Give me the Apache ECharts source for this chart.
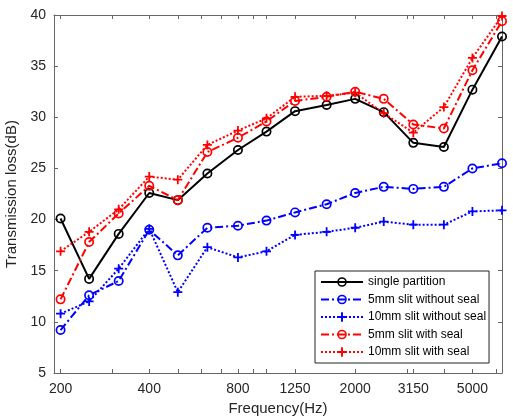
<!DOCTYPE html>
<html>
<head>
<meta charset="utf-8">
<script src="https://cdn.jsdelivr.net/npm/echarts@6/dist/echarts.min.js"></script>
<style>
  html, body { margin: 0; padding: 0; background: #fff; }
  #chart { width: 513px; height: 418px; }
</style>
</head>
<body>
<div id="chart"></div>
<script>
// 1/3 octave band centre frequencies (Hz)
var freqs = [200, 250, 315, 400, 500, 630, 800, 1000, 1250, 1600, 2000, 2500, 3150, 4000, 5000, 6300];
var freqLabels = [200, 400, 800, 1250, 2000, 3150, 5000];
var freqTicks = [200, 300, 400, 500, 600, 700, 800, 900, 1000, 1250, 2000, 3000, 3150, 4000, 5000, 6000];

// transmission loss (dB)
var singlePartition = [20.1, 14.2, 18.6, 22.6, 21.9, 24.5, 26.8, 28.6, 30.6, 31.2, 31.8, 30.5, 27.5, 27.1, 32.7, 37.9];
var slit5NoSeal = [9.2, 12.6, 14.0, 19.0, 16.5, 19.2, 19.4, 19.9, 20.7, 21.5, 22.6, 23.2, 23.0, 23.2, 25.0, 25.5];
var slit10NoSeal = [10.8, 12.0, 15.2, 19.1, 12.9, 17.3, 16.3, 16.9, 18.5, 18.8, 19.2, 19.8, 19.5, 19.5, 20.8, 20.9];
var slit5Seal = [12.2, 17.8, 20.6, 23.3, 21.9, 26.6, 28.0, 29.6, 31.6, 32.0, 32.5, 31.8, 29.3, 28.9, 34.6, 39.4];
var slit10Seal = [16.9, 18.8, 21.0, 24.2, 23.9, 27.3, 28.7, 29.9, 32.0, 32.1, 32.4, 30.4, 28.5, 31.0, 35.8, 39.9];

var seriesNames = [
  "single partition",
  "5mm slit without seal",
  "10mm slit without seal",
  "5mm slit with seal",
  "10mm slit with seal",
];

var FONT = "'Liberation Sans', Arial, sans-serif";
var RING = "path://M5,0A5,5,0,1,1,5,10A5,5,0,1,1,5,0ZM5,1.7A3.3,3.3,0,1,0,5,8.3A3.3,3.3,0,1,0,5,1.7Z";
var PLUS = "path://M4,0H6V4H10V6H6V10H4V6H0V4H4Z";

function pairs(values) {
  return freqs.map(function (f, i) {
    return [f, values[i]];
  });
}

function makeSeries(name, values, color, symbol, size, dash) {
  return {
    name: name,
    type: "line",
    data: pairs(values),
    xAxisIndex: 0,
    yAxisIndex: 0,
    symbol: symbol,
    symbolSize: size,
    showAllSymbol: true,
    lineStyle: { color: color, width: 2, type: dash },
    itemStyle: { color: color, borderWidth: 0 },
    emphasis: { disabled: true },
    animation: false,
  };
}

var axisColor = "#666";
var textColor = "#262626";

var chart = echarts.init(document.getElementById("chart"));
var option = {
  backgroundColor: "#fff",
  grid: {
    left: 54,
    right: 11,
    top: 15,
    bottom: 45,
    outerBoundsMode: "none",
  },
  legend: {
    orient: "vertical",
    left: 315,
    top: 271,
    padding: [5, 3, 5, 5],
    itemWidth: 42,
    itemHeight: 12,
    itemGap: 5.5,
    backgroundColor: "#fff",
    borderColor: "#222",
    borderWidth: 1,
    borderRadius: 0,
    textStyle: { fontFamily: FONT, fontSize: 12, color: "#000" },
    data: seriesNames,
  },
  //横坐标
  xAxis: [
    {
      type: "log",
      logBase: 10,
      min: 190,
      max: 6300,
      name: "Frequency(Hz)",
      nameLocation: "middle",
      nameGap: 28,
      nameTextStyle: { fontFamily: FONT, fontSize: 15, color: textColor },
      axisLine: { lineStyle: { color: axisColor, width: 1 } },
      axisTick: { inside: true, length: 4, customValues: freqTicks, lineStyle: { color: axisColor } },
      axisLabel: {
        customValues: freqLabels,
        margin: 9,
        fontFamily: FONT,
        fontSize: 14,
        color: textColor,
        formatter: function (v) {
          return String(Math.round(v));
        },
      },
      splitLine: { show: false },
      minorTick: { show: false },
    },
    {
      type: "log",
      logBase: 10,
      min: 190,
      max: 6300,
      position: "top",
      axisLine: { lineStyle: { color: axisColor, width: 1 } },
      axisTick: { inside: true, length: 4, customValues: freqTicks, lineStyle: { color: axisColor } },
      axisLabel: { show: false },
      splitLine: { show: false },
    },
  ],
  //纵坐标
  yAxis: [
    {
      type: "value",
      min: 5,
      max: 40,
      interval: 5,
      name: "Transmission loss(dB)",
      nameLocation: "middle",
      nameGap: 28,
      nameTextStyle: { fontFamily: FONT, fontSize: 15, color: textColor },
      axisLine: { show: true, lineStyle: { color: axisColor, width: 1 } },
      axisTick: { show: true, inside: true, length: 4, lineStyle: { color: axisColor } },
      axisLabel: { margin: 8, fontFamily: FONT, fontSize: 14, color: textColor },
      splitLine: { show: false },
    },
    {
      type: "value",
      min: 5,
      max: 40,
      interval: 5,
      position: "right",
      axisLine: { show: true, lineStyle: { color: axisColor, width: 1 } },
      axisTick: { show: true, inside: true, length: 4, lineStyle: { color: axisColor } },
      axisLabel: { show: false },
      splitLine: { show: false },
    },
  ],
  series: [
    makeSeries(seriesNames[0], singlePartition, "#000000", RING, 10, "solid"),
    makeSeries(seriesNames[1], slit5NoSeal, "#0000ff", RING, 10, [8, 3, 2, 3]),
    makeSeries(seriesNames[2], slit10NoSeal, "#0000ff", PLUS, 9, [2, 2]),
    makeSeries(seriesNames[3], slit5Seal, "#ff0000", RING, 10, [8, 3, 2, 3]),
    makeSeries(seriesNames[4], slit10Seal, "#ff0000", PLUS, 9, [2, 2]),
  ],
};
chart.setOption(option);
</script>
</body>
</html>
